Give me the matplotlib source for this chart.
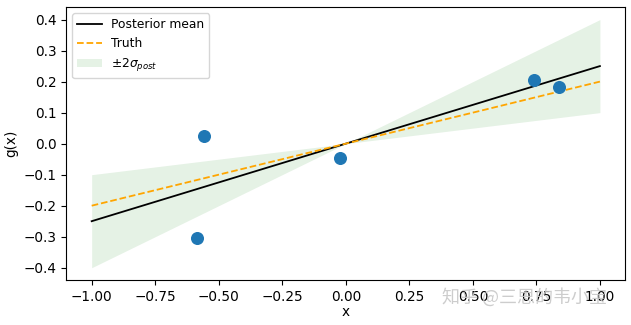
import numpy as np
import matplotlib
matplotlib.use('Agg')
import matplotlib.pyplot as plt

# Observed data points
x_obs = [-0.585, -0.556, -0.024, 0.740, 0.840]
y_obs = [-0.305, 0.026, -0.045, 0.205, 0.183]

# Lines / band (linear model through origin)
x_line = [-1.0, 0.0, 1.0]
post_mean = [-0.25, 0.0, 0.25]
truth = [-0.20, 0.0, 0.20]
band_lo = [-0.40, 0.0, 0.10]
band_hi = [-0.10, 0.0, 0.40]

fig = plt.figure(figsize=(6.31, 3.25), dpi=100)
ax = fig.add_axes([0.105, 0.138, 0.886, 0.840])

ax.plot(x_line, post_mean, color='black', lw=1.3, label='Posterior mean')
ax.plot(x_line, truth, color='orange', ls='--', lw=1.3, label='Truth')
ax.fill_between(x_line, band_lo, band_hi, color='green', alpha=0.1, lw=0,
                label=r'$\pm 2\sigma_{post}$')
ax.scatter(x_obs, y_obs, s=70, color='#1f77b4', zorder=3)

ax.set_xlabel('x', fontsize=9.8, labelpad=1)
ax.set_ylabel('g(x)', fontsize=9.8, labelpad=4)
ax.set_xticks(np.arange(-1.0, 1.01, 0.25))
ax.set_yticks(np.arange(-0.4, 0.41, 0.1))
ax.tick_params(labelsize=9.8)
ax.legend(loc='upper left', fontsize=8.8)

fig.text(0.70, 0.085, '知乎 @三思的韦小宝', fontsize=13, color='#c8c8c8',
         family=['Noto Sans CJK SC', 'DejaVu Sans'], alpha=0.9, va='center')

fig.savefig('out.png', dpi=100)
